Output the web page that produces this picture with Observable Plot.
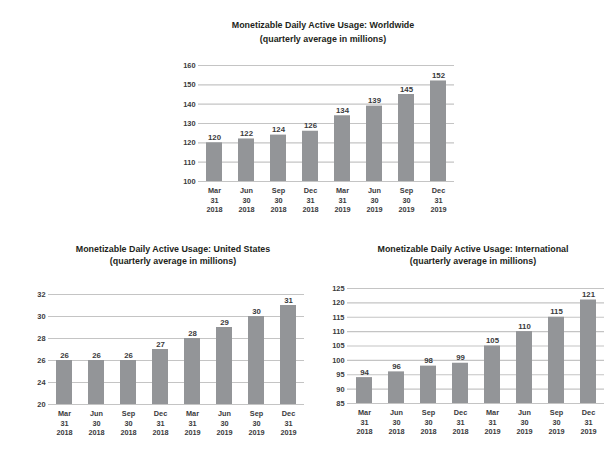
<!DOCTYPE html>
<html><head><meta charset="utf-8">
<script src="https://cdn.jsdelivr.net/npm/d3@7"></script>
<script src="https://cdn.jsdelivr.net/npm/@observablehq/plot@0.6"></script>
<style>
body{margin:0;background:#fff;font-family:"Liberation Sans",Arial,sans-serif;}
#root{position:relative;width:607px;height:450px;overflow:hidden;background:#fff}
.title{position:absolute;text-align:center;font-weight:bold;font-size:8.9px;color:#231f20;white-space:nowrap;transform:translateX(-50%)}
.chart{position:absolute}
</style></head><body><div id="root"></div>
<script>
const months = ["Mar","Jun","Sep","Dec","Mar","Jun","Sep","Dec"];
const days = ["31","30","30","31","31","30","30","31"];
const years = ["2018","2018","2018","2018","2019","2019","2019","2019"];

const worldwideValues = [120,122,124,126,134,139,145,152];
const worldwideTicks = [100,110,120,130,140,150,160];
const worldwideTickLabels = ["100","110","120","130","140","150","160"];

const usValues = [26,26,26,27,28,29,30,31];
const usTicks = [22,24,26,28,30,32];
const usTickLabels = ["20","24","26","28","30","32"];

const intlValues = [94,96,98,99,105,110,115,121];
const intlTicks = [85,90,95,100,105,110,115,120,125];
const intlTickLabels = ["85","90","95","100","105","110","115","120","125"];

const titles = {
  worldwide: ["Monetizable Daily Active Usage: Worldwide","(quarterly average in millions)"],
  us: ["Monetizable Daily Active Usage: United States","(quarterly average in millions)"],
  intl: ["Monetizable Daily Active Usage: International","(quarterly average in millions)"]
};

const root = document.getElementById("root");

function addTitle(lines, cx, top, lh) {
  const d = document.createElement("div");
  d.className = "title";
  d.style.left = cx + "px";
  d.style.top = top + "px";
  d.style.lineHeight = lh + "px";
  d.innerHTML = lines.join("<br>");
  root.appendChild(d);
}

function addChart(o) {
  const rows = o.values.map((v, i) => ({q: i, v}));
  const y0 = o.ticks[0];
  const plot = Plot.plot({
    width: o.width, height: o.height,
    marginLeft: o.ml, marginRight: o.mr, marginTop: o.mt, marginBottom: o.mb,
    style: {fontFamily: "'Liberation Sans', Arial, sans-serif", color: "#231f20", background: "white"},
    x: {type: "band", domain: d3.range(8), paddingInner: 0.5, paddingOuter: 0.25},
    y: {domain: [o.ticks[0], o.ticks[o.ticks.length - 1]]},
    marks: [
      Plot.ruleY(o.ticks, {stroke: "#c4c4c4", strokeWidth: 1.2}),
      Plot.barY(rows, {x: "q", y1: y0, y2: "v", fill: "#939598"}),
      Plot.text(rows, {x: "q", y: "v", text: d => String(d.v), dy: -3, lineAnchor: "bottom", fontSize: 7.8, fontWeight: "bold", fill: "#3a3a3c"}),
      Plot.axisY({ticks: o.ticks, tickFormat: d => o.labels[o.ticks.indexOf(d)], label: null, tickSize: 0, tickPadding: 3, fontSize: 7.4, fontWeight: "bold", fill: "#3a3a3c"}),
      Plot.axisX({label: null, tickSize: 0, tickPadding: 5, fontSize: 7.3, fontWeight: "bold", lineHeight: 1.3, fill: "#3a3a3c",
        tickFormat: i => months[i] + "\n" + days[i] + "\n" + years[i]})
    ]
  });
  const wrap = document.createElement("div");
  wrap.className = "chart";
  wrap.style.left = o.left + "px";
  wrap.style.top = o.top + "px";
  wrap.appendChild(plot);
  root.appendChild(wrap);
}

addTitle(titles.worldwide, 323, 18, 14);
addChart({values: worldwideValues, ticks: worldwideTicks, labels: worldwideTickLabels,
  left: 150, top: 55, width: 320, height: 165, ml: 48, mr: 16, mt: 10, mb: 39});

addTitle(titles.us, 173, 243, 12);
addChart({values: usValues, ticks: usTicks, labels: usTickLabels,
  left: 20, top: 285, width: 300, height: 159, ml: 28, mr: 16, mt: 9, mb: 40});

addTitle(titles.intl, 473, 243, 12);
addChart({values: intlValues, ticks: intlTicks, labels: intlTickLabels,
  left: 310, top: 280, width: 297, height: 163, ml: 37, mr: 3, mt: 8, mb: 40});
</script></body></html>
